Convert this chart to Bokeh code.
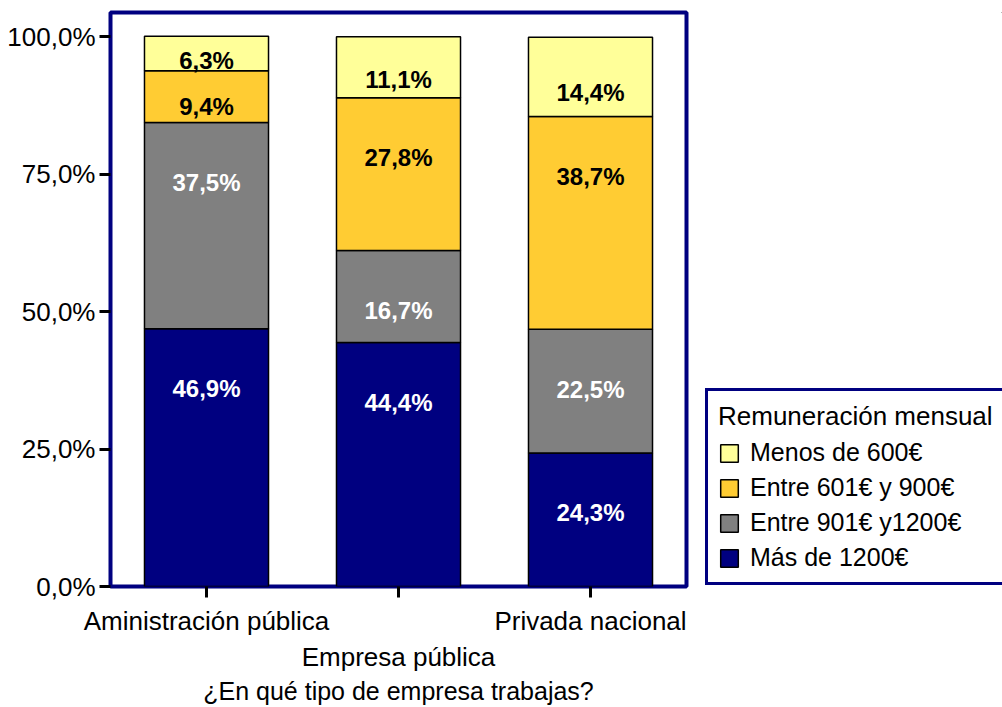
from bokeh.plotting import figure
from bokeh.layouts import row
from bokeh.models import ColumnDataSource, Range1d, FixedTicker, Legend, LegendItem
from bokeh.embed import file_html
from bokeh.resources import INLINE
from bokeh.core.properties import value

# ---------------- data ----------------
categories = ["Aministración pública", "Empresa pública", "Privada nacional"]
series_names = ["Más de 1200€", "Entre 901€ y1200€", "Entre 601€ y 900€", "Menos de 600€"]
mas_1200 = [46.9, 44.4, 24.3]
entre_901_1200 = [37.5, 16.7, 22.5]
entre_601_900 = [9.4, 27.8, 38.7]
menos_600 = [6.3, 11.1, 14.4]
y_ticks = [0, 25, 50, 75, 100]
y_tick_labels = ["0,0%", "25,0%", "50,0%", "75,0%", "100,0%"]
legend_title = "Remuneración mensual"
x_title = "¿En qué tipo de empresa trabajas?"

# ---------------- styles ----------------
FONT = "Liberation Sans"
colors = ["#000080", "#808080", "#FFCC33", "#FFFF99"]
label_colors = ["#FFFFFF", "#FFFFFF", "#000000", "#000000"]
series = [mas_1200, entre_901_1200, entre_601_900, menos_600]

x = list(range(len(categories)))

p = figure(width=700, height=707, output_backend="svg", toolbar_location=None,
           x_range=Range1d(-0.5, 2.5), y_range=Range1d(0, 104.4),
           min_border_left=110, min_border_right=14, min_border_top=12,
           min_border_bottom=119)
p.background_fill_color = "white"
p.border_fill_color = "white"
p.outline_line_color = "#000080"
p.outline_line_width = 4
p.outline_line_alpha = 1
p.xgrid.visible = False
p.ygrid.visible = False

bottoms = [0.0] * len(categories)
for name, vals, col, lcol in zip(series_names, series, colors, label_colors):
    tops = [b + v for b, v in zip(bottoms, vals)]
    ly = [t - min(10.9, 0.7 * v) for t, v in zip(tops, vals)]
    txt = [f"{v:.1f}".replace(".", ",") + "%" for v in vals]
    src = ColumnDataSource(dict(x=x, bottom=bottoms, top=tops, ly=ly, txt=txt))
    p.vbar(x="x", bottom="bottom", top="top", width=0.646, source=src,
           fill_color=col, line_color="black", line_width=1.5)
    p.text(x="x", y="ly", text="txt", source=src, text_align="center",
           text_baseline="middle", text_color=lcol, text_font=value(FONT),
           text_font_size="24px", text_font_style="bold")
    bottoms = tops

# axes
p.yaxis.ticker = FixedTicker(ticks=y_ticks)
p.yaxis.major_label_overrides = {t: l for t, l in zip(y_ticks, y_tick_labels)}
p.xaxis.ticker = FixedTicker(ticks=x)
p.xaxis.major_label_overrides = {0: categories[0], 1: "\n" + categories[1], 2: categories[2]}
for ax in (p.xaxis, p.yaxis):
    ax.axis_line_color = None
    ax.major_tick_line_color = "black"
    ax.major_tick_line_width = 3
    ax.major_tick_in = 0
    ax.major_tick_out = 11
    ax.minor_tick_line_color = None
    ax.major_label_text_font = FONT
    ax.major_label_text_font_size = "26px"
    ax.major_label_text_color = "black"
p.yaxis.major_label_standoff = 4
p.xaxis.major_label_standoff = 8
p.xaxis.axis_label = x_title
p.xaxis.axis_label_text_font = FONT
p.xaxis.axis_label_text_font_size = "25px"
p.xaxis.axis_label_text_font_style = "normal"
p.xaxis.axis_label_text_color = "black"
p.xaxis.axis_label_standoff = 2

# legend panel (separate figure to the right)
q = figure(width=302, height=707, output_backend="svg", toolbar_location=None,
           x_axis_type=None, y_axis_type=None,
           x_range=Range1d(0, 1), y_range=Range1d(0, 1),
           min_border_left=0, min_border_right=0, min_border_top=0, min_border_bottom=0)
q.outline_line_color = None
q.background_fill_color = "white"
q.border_fill_color = "white"
q.xgrid.visible = False
q.ygrid.visible = False

items = []
for name, col in zip(series_names, colors):
    # swatch renderer kept outside the visible range; only its legend glyph shows
    r = q.vbar(x=[10], bottom=[9], top=[10], width=0.5, fill_color=col,
               line_color="black", line_width=1.5)
    items.append(LegendItem(label=name, renderers=[r]))
items.reverse()

legend = Legend(items=items, location=(5, 1), title=legend_title)
legend.title_text_font = FONT
legend.title_text_font_size = "26px"
legend.title_text_font_style = "normal"
legend.title_text_color = "black"
legend.label_text_font = FONT
legend.label_text_font_size = "25px"
legend.label_text_color = "black"
legend.border_line_color = "#000080"
legend.border_line_width = 3
legend.border_line_alpha = 1
legend.background_fill_color = "white"
legend.background_fill_alpha = 1
legend.glyph_width = 22
legend.glyph_height = 22
legend.label_height = 25
legend.spacing = 6
legend.padding = 10
legend.margin = 0
legend.label_standoff = 10
legend.title_standoff = 6
q.add_layout(legend)

layout = row(p, q)
open("out.html", "w").write(file_html(layout, INLINE))
